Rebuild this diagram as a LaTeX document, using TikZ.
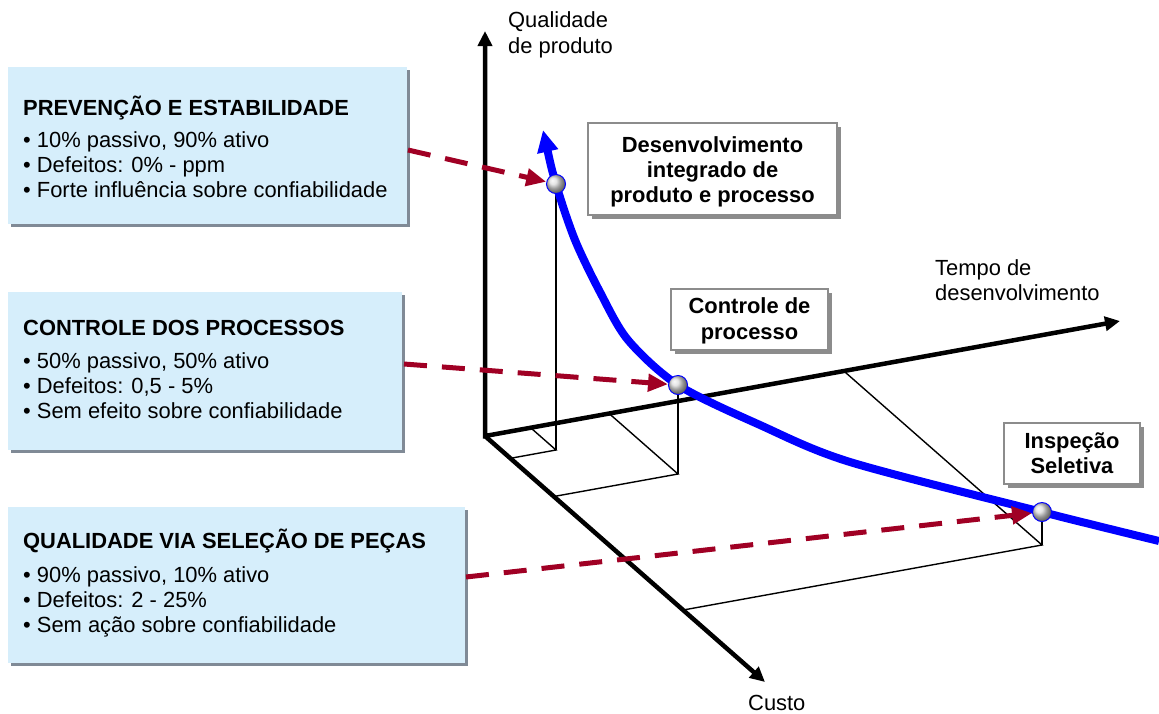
\documentclass[tikz,border=0pt]{standalone}
\usepackage{fontspec}
\setmainfont{Liberation Sans}
\usetikzlibrary{arrows.meta,calc,shadows}

\definecolor{boxblue}{RGB}{214,238,251}
\definecolor{arrred}{RGB}{160,0,36}
\definecolor{curveblue}{RGB}{0,0,255}
\definecolor{shadowgray}{RGB}{128,138,150}
\definecolor{calloutgray}{RGB}{140,140,140}

\begin{document}
\begin{tikzpicture}[x=1pt,y=-1pt,
  txt/.style={font=\fontsize{21.9}{25}\selectfont, inner sep=0pt},
  ttl/.style={font=\fontsize{21.9}{25}\selectfont\bfseries, inner sep=0pt},
  leftbox/.style={rectangle, fill=boxblue, inner sep=0pt,
    drop shadow={shadow xshift=3pt, shadow yshift=-3pt, fill=shadowgray, opacity=1}},
  callout/.style={rectangle, fill=white, draw=calloutgray, line width=2.5pt, inner sep=0pt,
    drop shadow={shadow xshift=4pt, shadow yshift=-4pt, fill=calloutgray, opacity=1}},
  axis/.style={line width=4.5pt, black},
  proj/.style={line width=1.4pt, black},
  bluecurve/.style={line width=8pt, curveblue, line join=round},
  ballnode/.style={circle, minimum size=19pt, inner sep=0pt, draw=curveblue, line width=1pt,
    shading=ball, ball color=gray!28},
  redarrow/.style={draw=arrred, line width=5pt, dash pattern=on 23pt off 15pt,
    -{Triangle[length=20pt,width=17pt]}}
]
\useasboundingbox (0,0) rectangle (1159,713);

% left boxes
\node[leftbox, minimum width=399pt, minimum height=157pt] (box1) at (207.5,145.5) {};
\node[leftbox, minimum width=394pt, minimum height=158pt] (box2) at (205,371) {};
\node[leftbox, minimum width=457pt, minimum height=156pt] (box3) at (236.5,585) {};

\node[ttl, anchor=base west] (b1t) at (23,115) {PREVENÇÃO E ESTABILIDADE};
\node[txt, anchor=base west] (b1a) at (23,147) {• 10\% passivo, 90\% ativo};
\node[txt, anchor=base west] (b1b) at (23,172) {• Defeitos: 0\% - ppm};
\node[txt, anchor=base west] (b1c) at (23,197) {• Forte influência sobre confiabilidade};

\node[ttl, anchor=base west] (b2t) at (23,335) {CONTROLE DOS PROCESSOS};
\node[txt, anchor=base west] (b2a) at (23,368) {• 50\% passivo, 50\% ativo};
\node[txt, anchor=base west] (b2b) at (23,393) {• Defeitos: 0,5 - 5\%};
\node[txt, anchor=base west] (b2c) at (23,418) {• Sem efeito sobre confiabilidade};

\node[ttl, anchor=base west] (b3t) at (23,548) {QUALIDADE VIA SELEÇÃO DE PEÇAS};
\node[txt, anchor=base west] (b3a) at (23,582) {• 90\% passivo, 10\% ativo};
\node[txt, anchor=base west] (b3b) at (23,607) {• Defeitos: 2 - 25\%};
\node[txt, anchor=base west] (b3c) at (23,632) {• Sem ação sobre confiabilidade};

% callouts
\node[callout, minimum width=249pt, minimum height=92pt] (c1) at (712.5,169) {};
\node[ttl, anchor=base] (c1a) at (712.5,152) {Desenvolvimento};
\node[ttl, anchor=base] (c1b) at (712.5,177) {integrado de};
\node[ttl, anchor=base] (c1c) at (712.5,202) {produto e processo};

\node[callout, minimum width=157pt, minimum height=61pt] (c2) at (749.5,319.5) {};
\node[ttl, anchor=base] (c2a) at (749.5,313) {Controle de};
\node[ttl, anchor=base] (c2b) at (749.5,339) {processo};

\node[callout, minimum width=136pt, minimum height=61pt] (c3) at (1072,453.5) {};
\node[ttl, anchor=base] (c3a) at (1072,448) {Inspeção};
\node[ttl, anchor=base] (c3b) at (1072,473) {Seletiva};

% axis labels
\node[txt, anchor=base west] (ql1) at (508,27) {Qualidade};
\node[txt, anchor=base west] (ql2) at (508,53) {de produto};
\node[txt, anchor=base west] (tl1) at (935,275) {Tempo de};
\node[txt, anchor=base west] (tl2) at (935,300) {desenvolvimento};
\node[txt, anchor=base west] (cl) at (748,710) {Custo};

% coordinates
\coordinate (O) at (485,436);
\coordinate (Qtip) at (485,31);
\coordinate (Ttip) at (1120,321);
\coordinate (Ctip) at (765,682);

\coordinate (p1) at (556,184);
\coordinate (f1) at (556,450);
\coordinate (t1) at (530.6,427.7);
\coordinate (k1) at (510.4,458.3);

\coordinate (p2) at (678,385);
\coordinate (f2) at (678,474);
\coordinate (t2) at (609.1,413.5);
\coordinate (k2) at (553.8,496.5);

\coordinate (p3) at (1042,512);
\coordinate (f3) at (1042,545);
\coordinate (t3) at (843.8,371);
\coordinate (k3) at (683.2,610);

% projection lines
\draw[proj] (p1) -- (f1);
\draw[proj] (t1) -- (f1) -- (k1);
\draw[proj] (p2) -- (f2);
\draw[proj] (t2) -- (f2) -- (k2);
\draw[proj] (p3) -- (f3);
\draw[proj] (t3) -- (f3) -- (k3);

% axes
\draw[axis, {Triangle[length=15pt,width=14pt]}-{Triangle[length=15pt,width=14pt]}] (Qtip) -- (O) -- (Ttip);
\draw[axis, -{Triangle[length=15pt,width=14pt]}] (O) -- (Ctip);

% blue curve
\draw[bluecurve, {Triangle[length=22pt,width=20pt]}-] plot[smooth, tension=0.5] coordinates {
  (543,130) (556,184) (575,240) (600,292) (628,340) (678,385)
  (760,425) (850,462) (1042,512) (1159,541)};

% spheres
\node[ballnode] (s1) at (p1) {};
\node[ballnode] (s2) at (p2) {};
\node[ballnode] (s3) at (p3) {};

% dashed arrows
\coordinate (a1) at (408,150);
\coordinate (a2) at (404,364);
\coordinate (a3) at (466,577);
\draw[redarrow] (a1) -- (s1);
\draw[redarrow] (a2) -- (s2);
\draw[redarrow] (a3) -- (s3);
\end{tikzpicture}
\end{document}
